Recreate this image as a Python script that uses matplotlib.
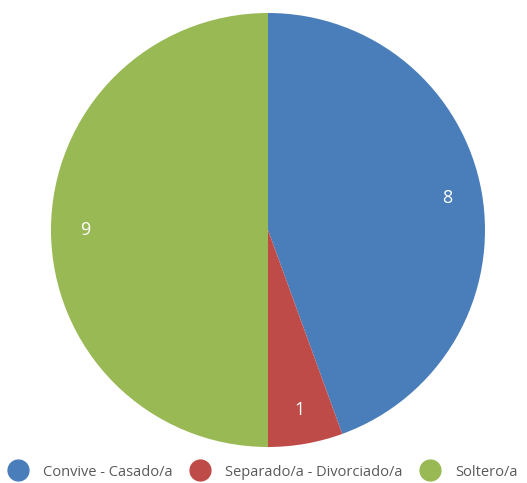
import matplotlib
matplotlib.use("Agg")
import matplotlib.pyplot as plt
from matplotlib.lines import Line2D

categories = ["Convive - Casado/a", "Separado/a - Divorciado/a", "Soltero/a"]
values = [8, 1, 9]
colors = ["#4A7EBB", "#BE4B48", "#98B954"]

plt.rcParams['font.family'] = ['Open Sans', 'DejaVu Sans']

W, H = 527, 483
fig = plt.figure(figsize=(W / 100, H / 100), dpi=100)
ax = fig.add_axes([0, 0, 1, 1])

wedges, texts, autotexts = ax.pie(
    values, colors=colors, startangle=90, counterclock=False,
    center=(268, H - 230), radius=217, frame=True,
    autopct=lambda p: f"{round(p * sum(values) / 100):d}",
    pctdistance=0.84,
    textprops=dict(color="white", fontsize=13),
)
ax.set_xlim(0, W)
ax.set_ylim(0, H)
ax.set_aspect('equal')
ax.axis('off')

handles = [Line2D([0], [0], marker='o', linestyle='none', markersize=15,
                  markerfacecolor=c, markeredgecolor=c) for c in colors]
fig.legend(handles, categories, loc='lower center', ncol=3, frameon=False,
           bbox_to_anchor=(0.5, -0.02), fontsize=10.5, labelcolor="#595959",
           handletextpad=1.1, columnspacing=1.3, handlelength=1.2)

fig.savefig("out.png", dpi=100)
